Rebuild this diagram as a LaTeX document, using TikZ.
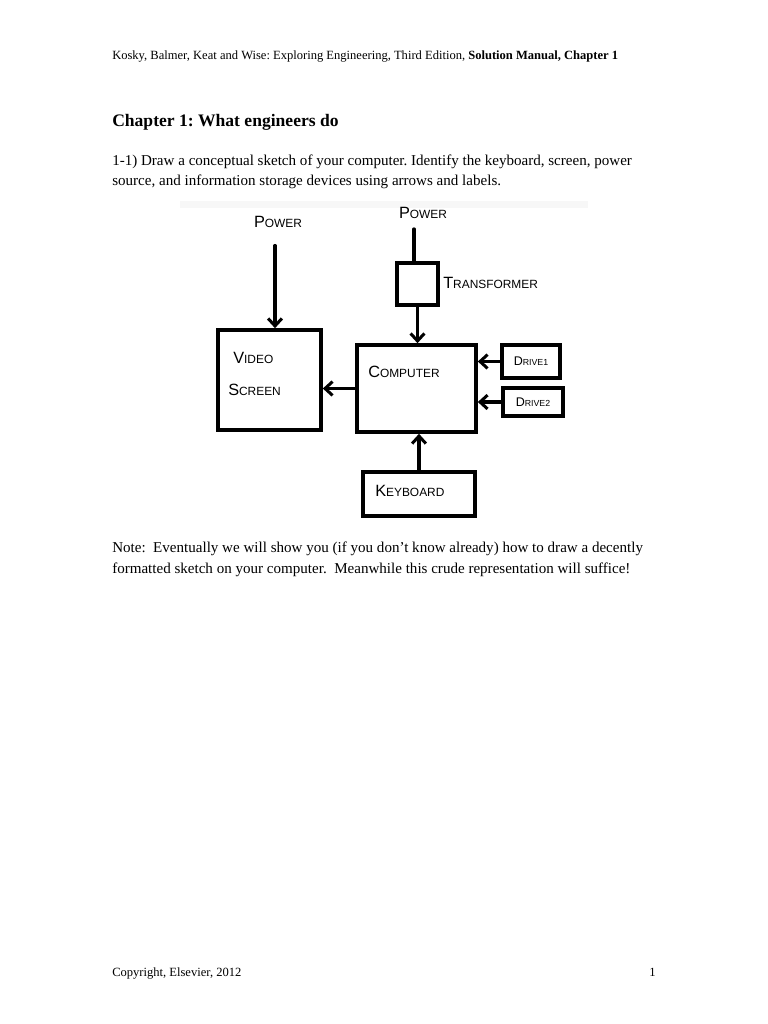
\documentclass[tikz,border=0pt]{standalone}
\usepackage{fontspec}
\setmainfont{Liberation Serif}
\newfontfamily\handfont{Liberation Sans}
\usetikzlibrary{arrows.meta,calc,positioning,fit}

% hand-lettered caps: big first letter, small rest
\newcommand{\hw}[2]{{\fontsize{13}{13}\selectfont #1}{\fontsize{9.5}{9.5}\selectfont #2}}
\newcommand{\hws}[2]{{\fontsize{10}{10}\selectfont #1}{\fontsize{7}{7}\selectfont #2}}

\begin{document}
\frenchspacing
\begin{tikzpicture}[x=0.797pt, y=-0.797pt,
    hbox/.style={draw, line width=2.9pt, inner sep=0pt},
    hline/.style={line width=2.5pt, line cap=round},
    harrow/.style={hline, -{Straight Barb[length=6pt, width=11pt, line width=2.4pt]}},
    hand/.style={font=\handfont, inner sep=0pt},
    pagetext/.style={anchor=base west, inner sep=0pt, font=\fontsize{12}{14}\selectfont}
  ]
  \useasboundingbox[fill=white] (0,0) rectangle (768,1024);

  % page header and question
  \node[pagetext, font=\fontsize{10}{12}\selectfont] (header) at (112,59)
    {Kosky, Balmer, Keat and Wise: Exploring Engineering, Third Edition, \textbf{Solution Manual, Chapter 1}};
  \node[pagetext, font=\fontsize{14}{16}\bfseries] (title) at (112,126) {Chapter 1: What engineers do};
  \node[pagetext] (qline1) at (112,165)
    {1-1) Draw a conceptual sketch of your computer. Identify the keyboard, screen, power};
  \node[pagetext] (qline2) at (112,185)
    {source, and information storage devices using arrows and labels.};

  % faint scan band
  \fill[gray!6] (180,201) rectangle (588,208);

  % boxes
  \node[hbox, fit={(218,330) (321,430)}] (screen) {};
  \node[hbox, fit={(397,263) (438,305)}] (xfmr) {};
  \node[hbox, fit={(357,345) (476,432)}] (computer) {};
  \node[hbox, fit={(502,345) (560,378)}] (drive1) {};
  \node[hbox, fit={(503,388) (563,416)}] (drive2) {};
  \node[hbox, fit={(363,472) (475,516)}] (keyboard) {};

  % labels
  \node[hand] (power1) at (278,222) {\hw{P}{OWER}};
  \node[hand] (power2) at (423,213) {\hw{P}{OWER}};
  \node[hand, anchor=west] (xfmrlabel) at (443,283) {\hw{T}{RANSFORMER}};
  \node[hand, anchor=west] (videolabel) at (233,358) {\hw{V}{IDEO}};
  \node[hand, anchor=west] (screenlabel) at (228,390) {\hw{S}{CREEN}};
  \node[hand, anchor=west] (complabel) at (368,372) {\hw{C}{OMPUTER}};
  \node[hand] (d1label) at (drive1.center) {\hws{D}{RIVE1}};
  \node[hand] (d2label) at (drive2.center) {\hws{D}{RIVE2}};
  \node[hand, anchor=west] (kblabel) at (375,491) {\hw{K}{EYBOARD}};

  % connectors
  \draw[harrow, shorten <=14pt] (power1.south -| 275,0) -- (screen.north -| 275,0);
  \draw[hline, shorten <=8pt] (power2.south -| 414,0) -- (xfmr.north -| 414,0);
  \draw[harrow] (xfmr.south) -- (xfmr.south |- computer.north);
  \draw[harrow] (computer.west) -- (screen.east |- computer.west);
  \draw[harrow] (drive1.west) -- (computer.east |- drive1.west);
  \draw[harrow] (drive2.west) -- (computer.east |- drive2.west);
  \draw[harrow] (keyboard.north) -- (keyboard.north |- computer.south);

  % note and footer
  \node[pagetext] (note1) at (112,552)
    {Note:\ \ Eventually we will show you (if you don't know already) how to draw a decently};
  \node[pagetext] (note2) at (112,573)
    {formatted sketch on your computer.\ \ Meanwhile this crude representation will suffice!};
  \node[pagetext, font=\fontsize{10}{12}\selectfont] (footer) at (112,976) {Copyright, Elsevier, 2012};
  \node[pagetext, anchor=base east, font=\fontsize{10}{12}\selectfont] (pageno) at (656,976) {1};
\end{tikzpicture}
\end{document}
